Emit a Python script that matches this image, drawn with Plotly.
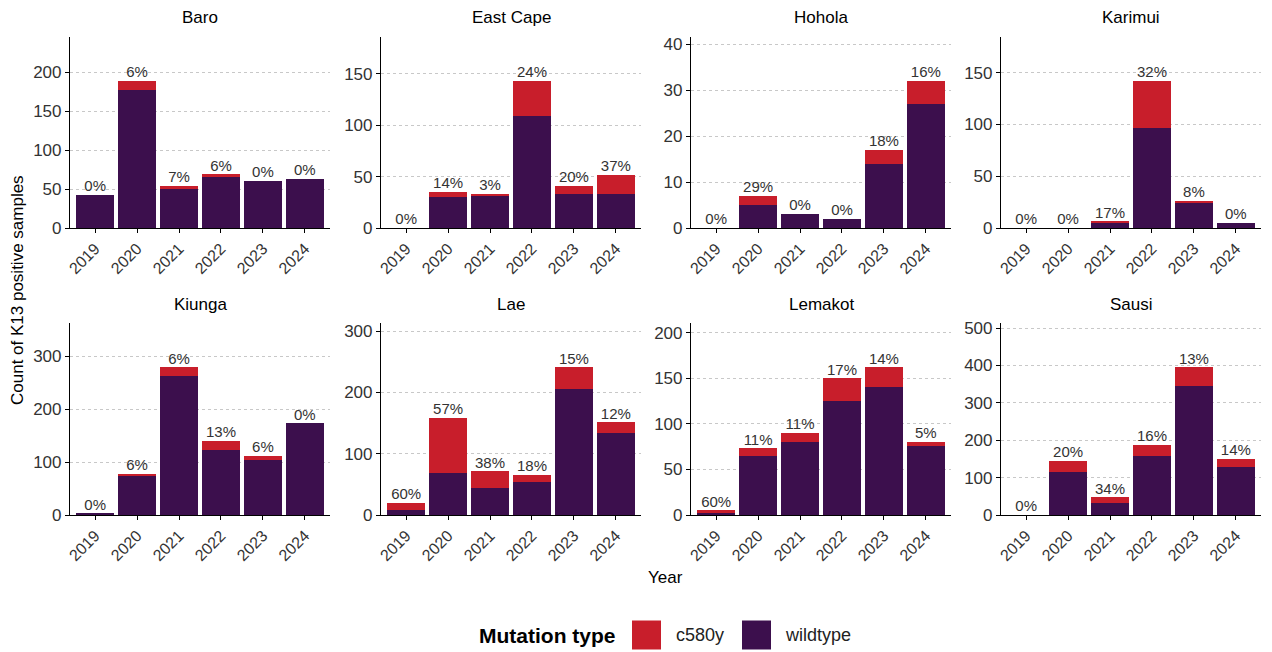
import plotly.graph_objects as go

years = ["2019", "2020", "2021", "2022", "2023", "2024"]
sites = ["Baro", "East Cape", "Hohola", "Karimui", "Kiunga", "Lae", "Lemakot", "Sausi"]

wild_baro = [43, 177, 50, 65, 61, 63]
c580_baro = [0, 12, 4, 4, 0, 0]
pct_baro = ["0%", "6%", "7%", "6%", "0%", "0%"]

wild_eastcape = [0, 30, 32, 109, 33, 33]
c580_eastcape = [0, 5, 1, 34, 8, 19]
pct_eastcape = ["0%", "14%", "3%", "24%", "20%", "37%"]

wild_hohola = [0, 5, 3, 2, 14, 27]
c580_hohola = [0, 2, 0, 0, 3, 5]
pct_hohola = ["0%", "29%", "0%", "0%", "18%", "16%"]

wild_karimui = [0, 0, 5, 97, 24, 5]
c580_karimui = [0, 0, 1, 45, 2, 0]
pct_karimui = ["0%", "0%", "17%", "32%", "8%", "0%"]

wild_kiunga = [3, 73, 262, 122, 104, 173]
c580_kiunga = [0, 5, 17, 18, 7, 0]
pct_kiunga = ["0%", "6%", "6%", "13%", "6%", "0%"]

wild_lae = [8, 69, 44, 54, 205, 133]
c580_lae = [12, 90, 27, 12, 36, 18]
pct_lae = ["60%", "57%", "38%", "18%", "15%", "12%"]

wild_lemakot = [2, 65, 80, 125, 140, 76]
c580_lemakot = [3, 8, 10, 25, 22, 4]
pct_lemakot = ["60%", "11%", "11%", "17%", "14%", "5%"]

wild_sausi = [0, 116, 31, 157, 344, 129]
c580_sausi = [0, 29, 16, 30, 51, 21]
pct_sausi = ["0%", "20%", "34%", "16%", "13%", "14%"]

legend_labels = ["c580y", "wildtype"]

wild_all = [wild_baro, wild_eastcape, wild_hohola, wild_karimui,
            wild_kiunga, wild_lae, wild_lemakot, wild_sausi]
c580_all = [c580_baro, c580_eastcape, c580_hohola, c580_karimui,
            c580_kiunga, c580_lae, c580_lemakot, c580_sausi]
pct_all = [pct_baro, pct_eastcape, pct_hohola, pct_karimui,
           pct_kiunga, pct_lae, pct_lemakot, pct_sausi]
dticks = [50, 50, 10, 50, 100, 100, 50, 100]

W, H = 1272, 652
RED = "#C81E2B"
PURPLE = "#3C0F4D"
TXT = "#333333"
FONT = "Liberation Sans, Arial, sans-serif"

col_px = [(70, 330), (381, 641), (691, 951), (1001, 1261)]
row_px = [(37, 228), (323, 515)]

fig = go.Figure()
layout = {}
annotations = []
shapes = []

for i, site in enumerate(sites):
    r, c = divmod(i, 4)
    n = i + 1
    xa = "x" if n == 1 else f"x{n}"
    ya = "y" if n == 1 else f"y{n}"
    wild = wild_all[i]
    mut = c580_all[i]
    tot = [a + b for a, b in zip(wild, mut)]
    fig.add_trace(go.Bar(x=years, y=wild, marker_color=PURPLE, width=0.9,
                         marker_line_width=0, xaxis=xa, yaxis=ya,
                         showlegend=False, name="wildtype"))
    fig.add_trace(go.Bar(x=years, y=mut, marker_color=RED, width=0.9,
                         marker_line_width=0, xaxis=xa, yaxis=ya,
                         showlegend=False, name="c580y"))
    fig.add_trace(go.Scatter(x=years, y=tot, text=pct_all[i], mode="text",
                             textposition="top center",
                             textfont=dict(size=15, color=TXT, family=FONT),
                             xaxis=xa, yaxis=ya, showlegend=False,
                             hoverinfo="skip", cliponaxis=False))
    x0, x1 = col_px[c]
    y0, y1 = row_px[r]
    xkey = "xaxis" if n == 1 else f"xaxis{n}"
    ykey = "yaxis" if n == 1 else f"yaxis{n}"
    layout[xkey] = dict(domain=[x0 / W, x1 / W], anchor=ya, type="category",
                        range=[-0.6, 5.6], showline=True, linecolor="black",
                        linewidth=1.2, ticks="outside", ticklen=4,
                        tickcolor="black", tickangle=-45, showgrid=False,
                        tickfont=dict(size=16, color=TXT, family=FONT),
                        automargin=False, fixedrange=True)
    layout[ykey] = dict(domain=[1 - y1 / H, 1 - y0 / H], anchor=xa,
                        range=[0, 1.3 * max(max(tot), 1)], dtick=dticks[i],
                        showline=True, linecolor="black", linewidth=1.2,
                        ticks="outside", ticklen=4, tickcolor="black",
                        showgrid=True, gridcolor="#c8c8c8", griddash="dot",
                        gridwidth=1, zeroline=False,
                        tickfont=dict(size=17, color=TXT, family=FONT),
                        automargin=False, fixedrange=True)
    annotations.append(dict(text=site, x=(x0 + x1) / 2 / W, xref="paper",
                            y=1 - (y0 - 19) / H, yref="paper",
                            showarrow=False, xanchor="center", yanchor="middle",
                            font=dict(size=17, color="black", family=FONT)))

annotations.append(dict(text="Count of K13 positive samples", x=17 / W,
                        y=1 - 290 / H, xref="paper", yref="paper",
                        showarrow=False, textangle=-90, xanchor="center",
                        yanchor="middle",
                        font=dict(size=17, color="black", family=FONT)))
annotations.append(dict(text="Year", x=665 / W, y=1 - 577 / H, xref="paper",
                        yref="paper", showarrow=False, xanchor="center",
                        yanchor="middle",
                        font=dict(size=17, color="black", family=FONT)))

# legend (drawn as layout decoration)
LY = 635
annotations.append(dict(text="<b>Mutation type</b>", x=477 / W, y=1 - LY / H,
                        xref="paper", yref="paper", showarrow=False,
                        xanchor="left", yanchor="middle",
                        font=dict(size=21, color="black", family=FONT)))
for (sx, tx), lab, colr in zip([(632, 674), (742, 783)], legend_labels,
                               [RED, PURPLE]):
    shapes.append(dict(type="rect", xref="paper", yref="paper",
                       x0=sx / W, x1=(sx + 29) / W,
                       y0=1 - (LY + 14.5) / H, y1=1 - (LY - 14.5) / H,
                       fillcolor=colr, line=dict(width=0)))
    annotations.append(dict(text=lab, x=tx / W, y=1 - LY / H, xref="paper",
                            yref="paper", showarrow=False, xanchor="left",
                            yanchor="middle",
                            font=dict(size=18, color="#222222", family=FONT)))

fig.update_layout(
    width=W, height=H, barmode="stack", bargap=0.1,
    plot_bgcolor="white", paper_bgcolor="white",
    margin=dict(l=0, r=0, t=0, b=0, autoexpand=False),
    annotations=annotations, shapes=shapes, showlegend=False,
    hovermode=False,
    **layout,
)

fig.write_html("out.html", config={"displayModeBar": False},
               post_script="document.body.style.margin='0';"
                           "document.body.style.overflow='hidden';")
